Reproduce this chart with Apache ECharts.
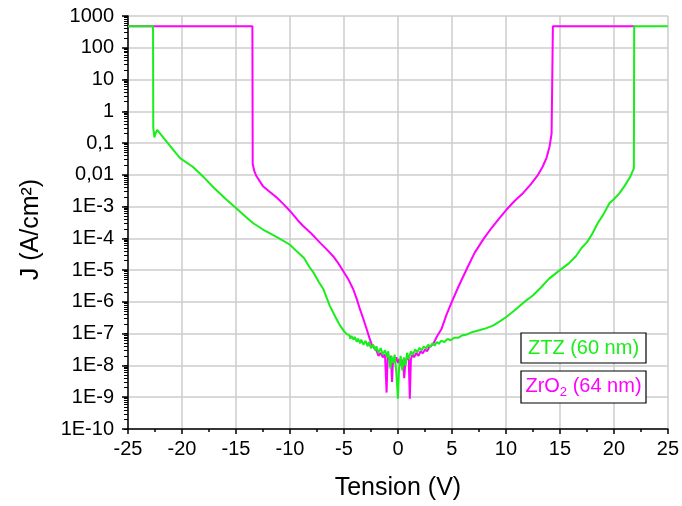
<!DOCTYPE html>
<html>
<head>
<meta charset="utf-8">
<script src="https://cdn.jsdelivr.net/npm/echarts@6/dist/echarts.min.js"></script>
<style>html,body{margin:0;padding:0;background:#fff}#c{width:682px;height:506px}</style>
</head>
<body>
<div id="c"></div>
<script>
// ---- data ----
const xTickLabels = ['-25','-20','-15','-10','-5','0','5','10','15','20','25'];
const yTickLabels = ['1E-10','1E-9','1E-8','1E-7','1E-6','1E-5','1E-4','1E-3','0,01','0,1','1','10','100','1000'];
const seriesNames = ['ZTZ (60 nm)', 'ZrO₂ (64 nm)'];

const ztzData = [
  [-25, 480], [-22.68, 480], [-22.66, 0.3], [-22.55, 0.15], [-22.45, 0.2], [-22.3, 0.26],
  [-21.5, 0.12], [-20.6, 0.05], [-20.15, 0.033], [-20.0, 0.038], [-19.0, 0.018], [-18.0, 0.0085],
  [-17.0, 0.0038], [-16.0, 0.0018], [-15.0, 0.0009], [-14.0, 0.00045], [-13.4, 0.0003],
  [-12.5, 0.00019], [-11.8, 0.00014], [-11.0, 0.0001], [-10.0, 0.000063], [-9.3, 0.000037],
  [-8.7, 0.000024], [-8.2, 0.0000126], [-7.8, 0.0000082], [-7.3, 0.0000041], [-6.9, 0.0000025],
  [-6.3, 0.00000074], [-5.8, 0.00000034], [-5.4, 0.00000019], [-5.0, 0.00000012], [-4.7, 0.000000095],
  [-4.5, 9e-8], [-4.4, 7e-8], [-4.3, 8.5e-8], [-4.1, 6.5e-8], [-4.0, 8e-8], [-3.8, 5.5e-8],
  [-3.7, 7e-8], [-3.5, 5e-8], [-3.4, 6.5e-8], [-3.2, 4.5e-8], [-3.0, 6e-8], [-2.8, 4e-8],
  [-2.7, 5.5e-8], [-2.5, 3.5e-8], [-2.3, 4.5e-8], [-2.1, 3e-8], [-2.0, 4e-8], [-1.8, 2.5e-8],
  [-1.6, 3.5e-8], [-1.4, 2.2e-8], [-1.2, 3e-8], [-1.0, 1.8e-8], [-0.9, 2.8e-8], [-0.7, 8e-9],
  [-0.6, 2e-8], [-0.45, 1.2e-8], [-0.3, 2.2e-8], [-0.15, 6e-9], [0.0, 9e-10], [0.1, 8e-9],
  [0.25, 2e-8], [0.4, 7e-9], [0.55, 1.8e-8], [0.7, 1e-8], [0.85, 2.5e-8], [1.0, 1.6e-8],
  [1.2, 2.8e-8], [1.4, 2.2e-8], [1.6, 3.2e-8], [1.8, 2.6e-8], [2.0, 3.6e-8], [2.2, 3e-8],
  [2.4, 4e-8], [2.6, 3.4e-8], [2.8, 4.5e-8], [3.0, 3.8e-8], [3.2, 5e-8], [3.4, 4.2e-8],
  [3.6, 5.5e-8], [3.8, 4.8e-8], [4.0, 6e-8], [4.3, 5.5e-8], [4.6, 6.8e-8], [4.9, 6.2e-8],
  [5.2, 7.5e-8], [5.6, 7.5e-8], [6.0, 9e-8], [6.4, 9.5e-8], [6.8, 1.1e-7], [7.2, 1.2e-7],
  [7.6, 1.3e-7], [8.2, 1.5e-7], [8.8, 1.8e-7], [9.4, 2.4e-7], [10.0, 3.3e-7], [10.5, 4.5e-7],
  [11.0, 6.2e-7], [11.7, 1.0e-6], [12.5, 1.6e-6], [13.2, 2.75e-6], [14.0, 5.4e-6], [15.0, 1.0e-5],
  [15.8, 1.6e-5], [16.5, 2.8e-5], [17.0, 5e-5], [17.5, 7.5e-5], [18.0, 0.00014], [18.5, 0.0003],
  [19.0, 0.00055], [19.6, 0.0013], [20.0, 0.0017], [20.1, 0.00175], [20.5, 0.0026], [21.0, 0.0045],
  [21.5, 0.0085], [21.85, 0.016], [21.88, 480], [25, 480]
];

const zro2Data = [
  [-25, 480], [-13.48, 480], [-13.45, 0.022], [-13.3, 0.013], [-13.1, 0.009], [-12.5, 0.0044],
  [-11.8, 0.0028], [-11.2, 0.0019], [-10.6, 0.0012], [-10.0, 0.00073], [-9.3, 0.00038],
  [-8.8, 0.00025], [-8.0, 0.00014], [-7.2, 0.000072], [-6.6, 0.000045], [-6.0, 0.0000275],
  [-5.5, 0.000016], [-5.06, 0.0000093], [-4.6, 0.0000052], [-4.14, 0.0000025], [-3.8, 0.0000012],
  [-3.52, 0.00000059], [-3.2, 0.00000029], [-2.9, 0.00000014], [-2.65, 0.000000075],
  [-2.44, 0.000000047], [-2.2, 0.000000035], [-1.98, 0.000000029],
  [-1.8, 2e-8], [-1.6, 2.5e-8], [-1.4, 1.8e-8], [-1.2, 2.2e-8], [-1.05, 1.4e-9], [-0.95, 2e-8],
  [-0.8, 1.5e-8], [-0.65, 2e-8], [-0.55, 3e-9], [-0.45, 1.6e-8], [-0.3, 1.2e-8], [-0.15, 1.8e-8],
  [0.0, 1.2e-8], [0.15, 1.6e-8], [0.3, 1.0e-8], [0.45, 1.5e-8], [0.58, 4e-9], [0.7, 1.4e-8],
  [0.85, 1.8e-8], [1.0, 1.5e-8], [1.1, 9e-10], [1.2, 1.6e-8], [1.35, 2.2e-8], [1.5, 1.8e-8],
  [1.7, 2.5e-8], [1.9, 2e-8], [2.1, 2.8e-8], [2.3, 2.4e-8], [2.5, 3.2e-8], [2.7, 2.8e-8],
  [2.9, 3.8e-8], [3.1, 4.2e-8], [3.3, 5e-8], [3.6, 8e-8], [4.03, 1.4e-7], [4.5, 4e-7],
  [4.96, 9.5e-7], [5.6, 3e-6], [6.36, 1.07e-5], [7.1, 3.5e-5], [7.9, 9.3e-5], [8.7, 0.00022],
  [9.44, 0.00045], [10.06, 0.00081], [10.8, 0.0015], [11.6, 0.0027], [12.3, 0.005], [12.99, 0.0102],
  [13.4, 0.018], [13.77, 0.035], [14.05, 0.08], [14.23, 0.2], [14.32, 0.21], [14.35, 480], [21.9, 480]
];

// ---- chart ----
const FONT = 'Liberation Sans, Arial, sans-serif';
const GREEN = '#1aee1a';
const MAGENTA = '#ff00ff';

const majorLogTicks = [];
const allLogTicks = [];
const decadeExps = [];
for (let e = -10; e <= 3; e++) {
  majorLogTicks.push(Math.pow(10, e));
  decadeExps.push(e);
  allLogTicks.push(Math.pow(10, e));
  if (e < 3) for (let k = 2; k <= 9; k++) allLogTicks.push(k * Math.pow(10, e));
}

const chart = echarts.init(document.getElementById('c'), null, {renderer: 'canvas'});
chart.setOption({
  animation: false,
  backgroundColor: '#ffffff',
  grid: {left: 128, right: 14, top: 16, bottom: 76, containLabel: false},
  xAxis: {
    type: 'value', min: -25, max: 25, interval: 5,
    name: 'Tension (V)', nameLocation: 'middle', nameGap: 47,
    nameTextStyle: {fontFamily: FONT, fontSize: 25, color: '#000'},
    axisLine: {onZero: false, lineStyle: {color: '#000', width: 1.5}},
    axisTick: {show: true, inside: false, length: 5, lineStyle: {color: '#000', width: 1.5}},
    minorTick: {show: true, splitNumber: 2, length: 3, lineStyle: {color: '#000', width: 1.5}},
    axisLabel: {fontFamily: FONT, fontSize: 20, color: '#000', margin: 10,
      formatter: (v) => xTickLabels[Math.round((v + 25) / 5)]},
    splitLine: {show: true, lineStyle: {color: '#cccccc', width: 1.5}}
  },
  yAxis: [{
    // main log axis: line, all ticks (major + minor), labels at decades
    type: 'log', logBase: 10, min: 1e-10, max: 1000,
    name: 'J (A/cm²)', nameLocation: 'middle', nameGap: 84, nameRotate: 90,
    nameTextStyle: {fontFamily: FONT, fontSize: 25, color: '#000', padding: [0, 14, 0, 0]},
    axisLine: {onZero: false, lineStyle: {color: '#000', width: 1.5}},
    axisTick: {show: true, inside: false, length: 4, customValues: allLogTicks, lineStyle: {color: '#000', width: 1}},
    minorTick: {show: false},
    axisLabel: {fontFamily: FONT, fontSize: 20, color: '#000', margin: 14, customValues: majorLogTicks,
      formatter: (v) => yTickLabels[Math.round(Math.log10(v)) + 10]},
    splitLine: {show: false}
  }, {
    // decade grid lines and major ticks (exponent space)
    type: 'value', min: -10, max: 3, interval: 1, position: 'left', offset: 0,
    axisLine: {show: false, onZero: false},
    axisTick: {show: true, inside: false, length: 6, customValues: decadeExps,
      lineStyle: {color: '#000', width: 1.5}},
    axisLabel: {show: true, customValues: decadeExps, formatter: () => ''},
    splitLine: {show: true, lineStyle: {color: '#cccccc', width: 1.5}}
  }],
  series: [{
    name: seriesNames[1], type: 'line', data: zro2Data, yAxisIndex: 0,
    showSymbol: false, symbol: 'none', lineStyle: {color: MAGENTA, width: 2}, z: 2
  }, {
    name: seriesNames[0], type: 'line', data: ztzData, yAxisIndex: 0,
    showSymbol: false, symbol: 'none', lineStyle: {color: GREEN, width: 2}, z: 3
  }],
  graphic: [{
    type: 'rect', shape: {x: 521, y: 333, width: 125, height: 30},
    style: {fill: '#fff', stroke: '#000', lineWidth: 1.2}, z: 10
  }, {
    type: 'text', x: 583.5, y: 348,
    style: {text: seriesNames[0], fill: GREEN, font: '20px ' + FONT, align: 'center', verticalAlign: 'middle'}, z: 11
  }, {
    type: 'rect', shape: {x: 521, y: 371, width: 125, height: 32},
    style: {fill: '#fff', stroke: '#000', lineWidth: 1.2}, z: 10
  }, {
    type: 'text', x: 583.5, y: 386,
    style: {
      text: '{a|ZrO}{s|2}{a| (64 nm)}',
      align: 'center', verticalAlign: 'middle',
      rich: {
        a: {fontFamily: FONT, fontSize: 20, fill: MAGENTA, color: MAGENTA},
        s: {fontFamily: FONT, fontSize: 13, fill: MAGENTA, color: MAGENTA, padding: [13, 0, 0, 0]}
      }
    }, z: 11
  }]
});
</script>
</body>
</html>
